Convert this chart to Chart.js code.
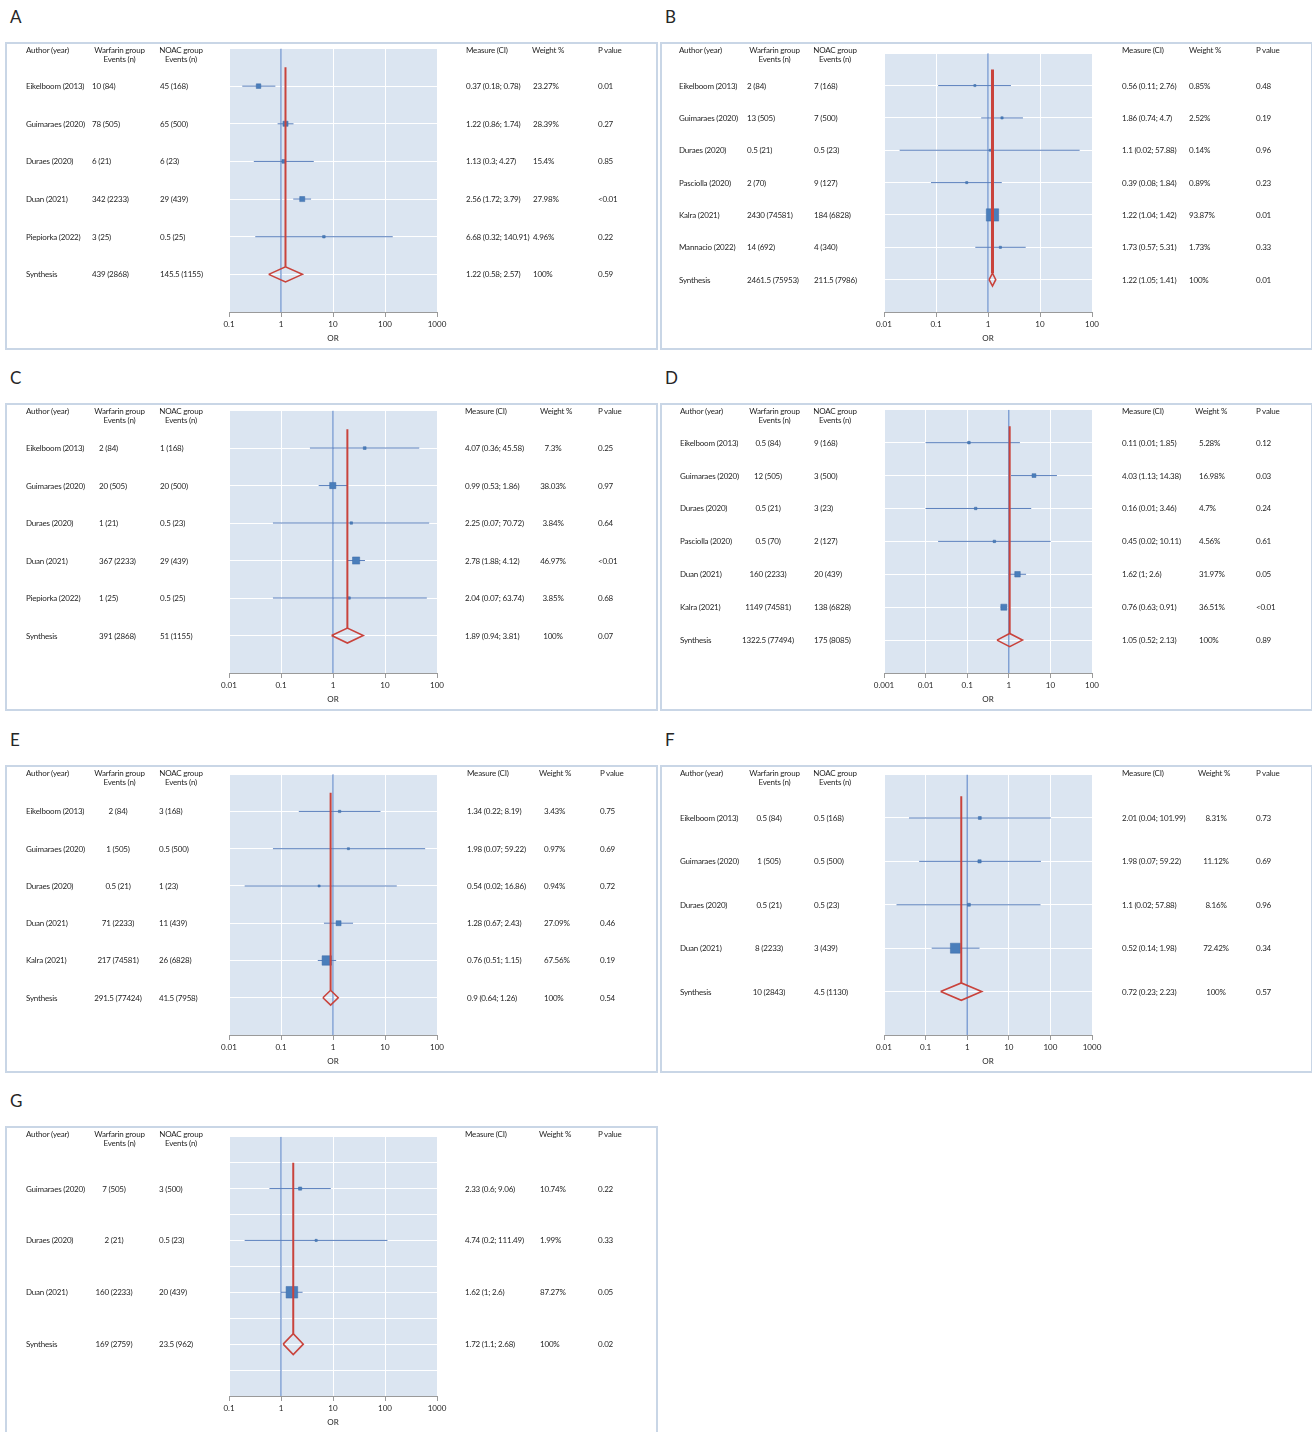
<!DOCTYPE html>
<html>
<head>
<meta charset="utf-8">
<script src="https://cdn.jsdelivr.net/npm/chart.js@4.4.1/dist/chart.umd.min.js"></script>
<style>
  body { margin: 0; background: #fff; font-family: Lato, 'Liberation Sans', sans-serif; color: #1e1e1e; }
  #page { position: relative; width: 1312px; height: 1432px; overflow: hidden; }
  .letter { position: absolute; font-size: 17px; line-height: 20px; color: #262626; }
  .panel { position: absolute; width: 653px; height: 308px; border: 2px solid #c9d6e6; box-sizing: border-box; }
  .panel canvas { position: absolute; left: 0; top: 0; }
  .t { position: absolute; font-size: 8px; line-height: 10px; letter-spacing: -0.2px; white-space: nowrap; transform: translateY(-50%); }
  .t.c { transform: translate(-50%, -50%); }
</style>
</head>
<body>
<div id="page"></div>
<script>
// A
const studiesA = ['Eikelboom (2013)', 'Guimaraes (2020)', 'Duraes (2020)', 'Duan (2021)', 'Piepiorka (2022)', 'Synthesis'];
const warfarinA = ['10 (84)', '78 (505)', '6 (21)', '342 (2233)', '3 (25)', '439 (2868)'];
const noacA = ['45 (168)', '65 (500)', '6 (23)', '29 (439)', '0.5 (25)', '145.5 (1155)'];
const orA = [0.37, 1.22, 1.13, 2.56, 6.68, 1.22];
const lowA = [0.18, 0.86, 0.3, 1.72, 0.32, 0.58];
const highA = [0.78, 1.74, 4.27, 3.79, 140.91, 2.57];
const weightA = [23.27, 28.39, 15.4, 27.98, 4.96, 100];
const pA = ['0.01', '0.27', '0.85', '<0.01', '0.22', '0.59'];
const ticksA = ['0.1', '1', '10', '100', '1000'];

// B
const studiesB = ['Eikelboom (2013)', 'Guimaraes (2020)', 'Duraes (2020)', 'Pasciolla (2020)', 'Kalra (2021)', 'Mannacio (2022)', 'Synthesis'];
const warfarinB = ['2 (84)', '13 (505)', '0.5 (21)', '2 (70)', '2430 (74581)', '14 (692)', '2461.5 (75953)'];
const noacB = ['7 (168)', '7 (500)', '0.5 (23)', '9 (127)', '184 (6828)', '4 (340)', '211.5 (7986)'];
const orB = [0.56, 1.86, 1.1, 0.39, 1.22, 1.73, 1.22];
const lowB = [0.11, 0.74, 0.02, 0.08, 1.04, 0.57, 1.05];
const highB = [2.76, 4.7, 57.88, 1.84, 1.42, 5.31, 1.41];
const weightB = [0.85, 2.52, 0.14, 0.89, 93.87, 1.73, 100];
const pB = ['0.48', '0.19', '0.96', '0.23', '0.01', '0.33', '0.01'];
const ticksB = ['0.01', '0.1', '1', '10', '100'];

// C
const studiesC = ['Eikelboom (2013)', 'Guimaraes (2020)', 'Duraes (2020)', 'Duan (2021)', 'Piepiorka (2022)', 'Synthesis'];
const warfarinC = ['2 (84)', '20 (505)', '1 (21)', '367 (2233)', '1 (25)', '391 (2868)'];
const noacC = ['1 (168)', '20 (500)', '0.5 (23)', '29 (439)', '0.5 (25)', '51 (1155)'];
const orC = [4.07, 0.99, 2.25, 2.78, 2.04, 1.89];
const lowC = [0.36, 0.53, 0.07, 1.88, 0.07, 0.94];
const highC = [45.58, 1.86, 70.72, 4.12, 63.74, 3.81];
const weightC = [7.3, 38.03, 3.84, 46.97, 3.85, 100];
const pC = ['0.25', '0.97', '0.64', '<0.01', '0.68', '0.07'];
const ticksC = ['0.01', '0.1', '1', '10', '100'];

// D
const studiesD = ['Eikelboom (2013)', 'Guimaraes (2020)', 'Duraes (2020)', 'Pasciolla (2020)', 'Duan (2021)', 'Kalra (2021)', 'Synthesis'];
const warfarinD = ['0.5 (84)', '12 (505)', '0.5 (21)', '0.5 (70)', '160 (2233)', '1149 (74581)', '1322.5 (77494)'];
const noacD = ['9 (168)', '3 (500)', '3 (23)', '2 (127)', '20 (439)', '138 (6828)', '175 (8085)'];
const orD = [0.11, 4.03, 0.16, 0.45, 1.62, 0.76, 1.05];
const lowD = [0.01, 1.13, 0.01, 0.02, 1, 0.63, 0.52];
const highD = [1.85, 14.38, 3.46, 10.11, 2.6, 0.91, 2.13];
const weightD = [5.28, 16.98, 4.7, 4.56, 31.97, 36.51, 100];
const pD = ['0.12', '0.03', '0.24', '0.61', '0.05', '<0.01', '0.89'];
const ticksD = ['0.001', '0.01', '0.1', '1', '10', '100'];

// E
const studiesE = ['Eikelboom (2013)', 'Guimaraes (2020)', 'Duraes (2020)', 'Duan (2021)', 'Kalra (2021)', 'Synthesis'];
const warfarinE = ['2 (84)', '1 (505)', '0.5 (21)', '71 (2233)', '217 (74581)', '291.5 (77424)'];
const noacE = ['3 (168)', '0.5 (500)', '1 (23)', '11 (439)', '26 (6828)', '41.5 (7958)'];
const orE = [1.34, 1.98, 0.54, 1.28, 0.76, 0.9];
const lowE = [0.22, 0.07, 0.02, 0.67, 0.51, 0.64];
const highE = [8.19, 59.22, 16.86, 2.43, 1.15, 1.26];
const weightE = [3.43, 0.97, 0.94, 27.09, 67.56, 100];
const pE = ['0.75', '0.69', '0.72', '0.46', '0.19', '0.54'];
const ticksE = ['0.01', '0.1', '1', '10', '100'];

// F
const studiesF = ['Eikelboom (2013)', 'Guimaraes (2020)', 'Duraes (2020)', 'Duan (2021)', 'Synthesis'];
const warfarinF = ['0.5 (84)', '1 (505)', '0.5 (21)', '8 (2233)', '10 (2843)'];
const noacF = ['0.5 (168)', '0.5 (500)', '0.5 (23)', '3 (439)', '4.5 (1130)'];
const orF = [2.01, 1.98, 1.1, 0.52, 0.72];
const lowF = [0.04, 0.07, 0.02, 0.14, 0.23];
const highF = [101.99, 59.22, 57.88, 1.98, 2.23];
const weightF = [8.31, 11.12, 8.16, 72.42, 100];
const pF = ['0.73', '0.69', '0.96', '0.34', '0.57'];
const ticksF = ['0.01', '0.1', '1', '10', '100', '1000'];

// G
const studiesG = ['Guimaraes (2020)', 'Duraes (2020)', 'Duan (2021)', 'Synthesis'];
const warfarinG = ['7 (505)', '2 (21)', '160 (2233)', '169 (2759)'];
const noacG = ['3 (500)', '0.5 (23)', '20 (439)', '23.5 (962)'];
const orG = [2.33, 4.74, 1.62, 1.72];
const lowG = [0.6, 0.2, 1, 1.1];
const highG = [9.06, 111.49, 2.6, 2.68];
const weightG = [10.74, 1.99, 87.27, 100];
const pG = ['0.22', '0.33', '0.05', '0.02'];
const ticksG = ['0.1', '1', '10', '100', '1000'];

const FONT = 'Lato, "Liberation Sans", sans-serif';
const BW = 2;           // panel border
const DH = 0.2;         // half height of the synthesis diamond (row units)
const RED = '#c9433c';
const BLUE = '#4a7ebb';

// layout defaults (box-relative x)
const baseCols = { author: 21, warHead: 114.5, war: [87, 'l'], noacHead: 176, noac: 155, measure: 461, weightHead: 527, weight: [527, 'l'], p: 593 };

const panels = [
  { letter: 'A', left: 5, top: 42, studies: studiesA, warfarin: warfarinA, noac: noacA, or: orA, low: lowA, high: highA, weight: weightA, p: pA, ticks: ticksA,
    cols: { weight: [528, 'l'] } },
  { letter: 'B', left: 660, top: 42, studies: studiesB, warfarin: warfarinB, noac: noacB, or: orB, low: lowB, high: highB, weight: weightB, p: pB, ticks: ticksB,
    cols: { author: 19, noacHead: 175, noac: 154, measure: 462, weightHead: 529, weight: [529, 'l'], p: 596 }, redWidth: 3 },
  { letter: 'C', left: 5, top: 403, studies: studiesC, warfarin: warfarinC, noac: noacC, or: orC, low: lowC, high: highC, weight: weightC, p: pC, ticks: ticksC,
    cols: { war: [94, 'l'], measure: 460, weightHead: 535, weight: [548, 'c'] } },
  { letter: 'D', left: 660, top: 403, studies: studiesD, warfarin: warfarinD, noac: noacD, or: orD, low: lowD, high: highD, weight: weightD, p: pD, ticks: ticksD,
    cols: { author: 20, war: [108, 'c'], noacHead: 175, noac: 154, measure: 462, weightHead: 535, weight: [539, 'l'], p: 596 } },
  { letter: 'E', left: 5, top: 765, studies: studiesE, warfarin: warfarinE, noac: noacE, or: orE, low: lowE, high: highE, weight: weightE, p: pE, ticks: ticksE,
    cols: { war: [113, 'c'], noac: 154, measure: 462, weightHead: 534, weight: [539, 'l'], p: 595 } },
  { letter: 'F', left: 660, top: 765, studies: studiesF, warfarin: warfarinF, noac: noacF, or: orF, low: lowF, high: highF, weight: weightF, p: pF, ticks: ticksF,
    cols: { author: 20, war: [109, 'c'], noacHead: 175, noac: 154, measure: 462, weightHead: 538, weight: [556, 'c'], p: 596 } },
  { letter: 'G', left: 5, top: 1126, studies: studiesG, warfarin: warfarinG, noac: noacG, or: orG, low: lowG, high: highG, weight: weightG, p: pG, ticks: ticksG,
    cols: { war: [109, 'c'], noac: 154, measure: 460, weightHead: 534, weight: [535, 'l'] }, yStep: 0.5 }
];

// plot area fill
const plotBg = {
  id: 'plotBg',
  beforeDraw(chart) {
    const { ctx, chartArea: a } = chart;
    ctx.save();
    ctx.fillStyle = '#dbe5f1';
    ctx.fillRect(a.left, a.top, a.right - a.left, a.bottom - a.top);
    ctx.restore();
  }
};

function addText(parent, txt, x, y, align) {
  const d = document.createElement('div');
  d.className = align === 'c' ? 't c' : 't';
  d.textContent = txt;
  d.style.left = (x - BW) + 'px';
  d.style.top = y + 'px';
  parent.appendChild(d);
}

function forestPanel(p) {
  const page = document.getElementById('page');
  const cols = Object.assign({}, baseCols, p.cols);

  const letter = document.createElement('div');
  letter.className = 'letter';
  letter.textContent = p.letter;
  letter.style.left = (p.left + 5) + 'px';
  letter.style.top = (p.top - 35) + 'px';
  page.appendChild(letter);

  const box = document.createElement('div');
  box.className = 'panel';
  box.style.left = p.left + 'px';
  box.style.top = p.top + 'px';
  const canvas = document.createElement('canvas');
  canvas.width = 653 - 2 * BW;
  canvas.height = 308 - 2 * BW;
  box.appendChild(canvas);
  page.appendChild(box);

  const n = p.studies.length;
  const last = n - 1;
  const rows = p.studies.map((s, i) => n - i);
  const tickVals = p.ticks.map(Number);
  const est = p.or[last];

  const datasets = [];
  // confidence intervals
  for (let i = 0; i < last; i++) {
    datasets.push({
      data: [{ x: p.low[i], y: rows[i] }, { x: p.high[i], y: rows[i] }],
      showLine: true, borderColor: '#5b80bd', borderWidth: 1, pointRadius: 0, order: 3
    });
  }
  // line of no effect
  datasets.push({
    data: [{ x: 1, y: 0 }, { x: 1, y: n + 1 }],
    showLine: true, borderColor: '#4a78c2', borderWidth: 1, pointRadius: 0, order: 4
  });
  // pooled estimate line
  datasets.push({
    data: [{ x: est, y: rows[0] + 0.5 }, { x: est, y: rows[last] + DH }],
    showLine: true, borderColor: RED, borderWidth: p.redWidth || 2, pointRadius: 0, order: 0
  });
  // diamond
  datasets.push({
    data: [
      { x: p.low[last], y: rows[last] },
      { x: est, y: rows[last] + DH },
      { x: p.high[last], y: rows[last] },
      { x: est, y: rows[last] - DH },
      { x: p.low[last], y: rows[last] }
    ],
    showLine: true, borderColor: RED, borderWidth: 1.6, pointRadius: 0, tension: 0, order: 0
  });
  // study squares, side grows with weight
  datasets.push({
    data: rows.slice(0, last).map((r, i) => ({ x: p.or[i], y: r })),
    showLine: false, pointStyle: 'rect',
    pointRadius: p.weight.slice(0, last).map(w => (2 + 0.11 * w) / Math.SQRT2),
    backgroundColor: BLUE, borderColor: '#3d6aa6', borderWidth: 0.5, order: 1
  });

  const chart = new Chart(canvas, {
    type: 'scatter',
    data: { datasets },
    options: {
      responsive: false,
      animation: false,
      devicePixelRatio: 1,
      events: [],
      layout: { padding: { left: 224 - BW, right: 653 - 432 - BW, top: 6 - BW, bottom: 4 } },
      scales: {
        x: {
          type: 'logarithmic',
          min: tickVals[0],
          max: tickVals[tickVals.length - 1],
          afterBuildTicks: s => { s.ticks = tickVals.map(v => ({ value: v })); },
          afterFit: s => { s.height = 32; },
          ticks: { callback: (v, i) => p.ticks[i], autoSkip: false, maxRotation: 0, padding: 3, color: '#1e1e1e', font: { family: FONT, size: 8 } },
          grid: { color: '#ffffff', tickColor: '#9a9a9a', tickLength: 5 },
          border: { color: '#9a9a9a', width: 1 },
          title: { display: true, text: 'OR', color: '#1e1e1e', font: { family: FONT, size: 8 }, padding: { top: 2, bottom: 1 } }
        },
        y: {
          type: 'linear',
          min: 0,
          max: n + 1,
          afterFit: s => { s.width = 0; },
          ticks: { display: false, stepSize: p.yStep || 1 },
          grid: { color: '#ffffff', drawTicks: false },
          border: { display: false }
        }
      },
      plugins: { legend: { display: false }, tooltip: { enabled: false } }
    },
    plugins: [plotBg]
  });

  // table text
  const ys = chart.scales.y;
  const h1 = 8 - BW, h2 = 17 - BW;
  addText(box, 'Author (year)', cols.author, h1, 'l');
  addText(box, 'Warfarin group', cols.warHead, h1, 'c');
  addText(box, 'Events (n)', cols.warHead, h2, 'c');
  addText(box, 'NOAC group', cols.noacHead, h1, 'c');
  addText(box, 'Events (n)', cols.noacHead, h2, 'c');
  addText(box, 'Measure (CI)', cols.measure, h1, 'l');
  addText(box, 'Weight %', cols.weightHead, h1, 'l');
  addText(box, 'P value', cols.p, h1, 'l');

  p.studies.forEach((s, i) => {
    const y = ys.getPixelForValue(rows[i]);
    addText(box, s, cols.author, y, 'l');
    addText(box, p.warfarin[i], cols.war[0], y, cols.war[1]);
    addText(box, p.noac[i], cols.noac, y, 'l');
    addText(box, p.or[i] + ' (' + p.low[i] + '; ' + p.high[i] + ')', cols.measure, y, 'l');
    addText(box, p.weight[i] + '%', cols.weight[0], y, cols.weight[1]);
    addText(box, p.p[i], cols.p, y, 'l');
  });
}

panels.forEach(forestPanel);
</script>
</body>
</html>
